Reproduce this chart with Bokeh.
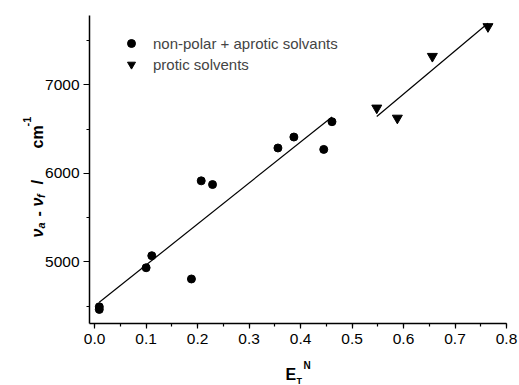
import numpy as np
from math import pi
from bokeh.plotting import figure
from bokeh.models import (Range1d, SingleIntervalTicker, FixedTicker, Label,
                          Legend, LegendItem, NumeralTickFormatter, LinearAxis)
from bokeh.embed import file_html
from bokeh.resources import INLINE

# ---- data ----
aprotic_x = [0.009, 0.009, 0.100, 0.111, 0.188, 0.207, 0.229, 0.356, 0.387, 0.445, 0.461]
aprotic_y = [4494, 4464, 4935, 5071, 4808, 5917, 5875, 6288, 6412, 6272, 6585]
protic_x = [0.548, 0.588, 0.656, 0.764]
protic_y = [6740, 6626, 7324, 7660]
y_major = [5000, 6000, 7000]
y_minor = [4500, 5500, 6500, 7500]
legend_labels = ["non-polar + aprotic solvants", "protic solvents"]

FONT = "Liberation Sans"
W, H = 519, 385
# axis extents (data) and their pixel placement on the canvas
X0, X1 = -0.01, 0.80
Y0, Y1 = 4305, 7785
PX_L, PX_R = 89, 506      # canvas x of X0, X1
PY_B, PY_T = 323, 15      # canvas y of Y0, Y1
kx = (X1 - X0) / (PX_R - PX_L)
ky = (Y1 - Y0) / (PY_B - PY_T)

p = figure(width=W, height=H, output_backend="svg", toolbar_location=None,
           x_range=Range1d(X0 - PX_L * kx, X1 + (W - PX_R) * kx),
           y_range=Range1d(Y0 - (H - PY_B) * ky, Y1 + PY_T * ky),
           x_axis_location=None, y_axis_location=None,
           min_border=0, outline_line_color=None,
           background_fill_color="white", border_fill_color="white")
p.grid.visible = False

# fit lines computed from the data
for xs, ys in ((aprotic_x, aprotic_y), (protic_x, protic_y)):
    k, b = np.polyfit(xs, ys, 1)
    x0, x1 = min(xs), max(xs)
    p.line([x0, x1], [k * x0 + b, k * x1 + b], line_color="black", line_width=1.2)

r1 = p.scatter(aprotic_x, aprotic_y, marker="circle", size=8,
               fill_color="black", line_color="black")
r2 = p.scatter(protic_x, protic_y, marker="inverted_triangle", size=10,
               fill_color="black", line_color="black")

# axes
xa = LinearAxis(fixed_location=Y0, bounds=(X0, X1),
                ticker=SingleIntervalTicker(interval=0.1, num_minor_ticks=2),
                formatter=NumeralTickFormatter(format="0.0"))
ya = LinearAxis(fixed_location=X0, bounds=(Y0, Y1),
                ticker=FixedTicker(ticks=y_major, minor_ticks=y_minor))
for ax in (xa, ya):
    ax.axis_line_width = 1.5
    ax.axis_line_color = "black"
    ax.major_tick_in = 0
    ax.minor_tick_in = 0
    ax.major_tick_line_width = 1.2
    ax.minor_tick_line_width = 1.2
    ax.major_tick_line_color = "black"
    ax.minor_tick_line_color = "black"
    ax.major_label_text_font = FONT
    ax.major_label_text_font_size = "15.5px"
    ax.major_label_text_color = "black"
xa.major_tick_out = 5
xa.minor_tick_out = 3
ya.major_tick_out = 6
ya.minor_tick_out = 3
ya.major_label_standoff = 4
p.add_layout(xa, "below")
p.add_layout(ya, "left")

# legend
legend = Legend(items=[LegendItem(label=legend_labels[0], renderers=[r1]),
                       LegendItem(label=legend_labels[1], renderers=[r2])],
                location=(121, H - 74), padding=0, margin=0, spacing=1,
                glyph_width=20, glyph_height=20, label_height=20,
                label_standoff=12, border_line_color=None,
                background_fill_alpha=0, label_text_font=FONT,
                label_text_font_size="15px")
p.add_layout(legend, "center")


def lab(text, cx, cy, size, style="bold", angle=0.0, baseline="alphabetic"):
    p.add_layout(Label(x=cx, y=H - cy, x_units="screen", y_units="screen",
                       text=text, angle=angle, text_font=FONT,
                       text_font_size=size, text_font_style=style,
                       text_color="black", text_align="left",
                       text_baseline=baseline))


# x axis label  E_T^N
lab("E", 285, 374, "16px", baseline="middle")
lab("T", 296, 380, "9px", baseline="middle")
lab("N", 303, 364.5, "10px", baseline="middle")

# y axis label  va - vf  /  cm-1 (rotated)
A = pi / 2
lab("ν", 37, 237, "16px", "bold italic", A)
lab("a", 40, 228, "11px", "bold italic", A)
lab("-", 37, 216, "16px", "bold", A)
lab("ν", 37, 206, "16px", "bold italic", A)
lab("f", 40, 197.5, "11px", "bold italic", A)
lab("/", 37, 184, "17px", "bold", A)
lab("cm", 37, 148, "16px", "bold", A)
lab("-1", 26, 126, "11px", "bold", A)

open("out.html", "w").write(file_html(p, INLINE))
